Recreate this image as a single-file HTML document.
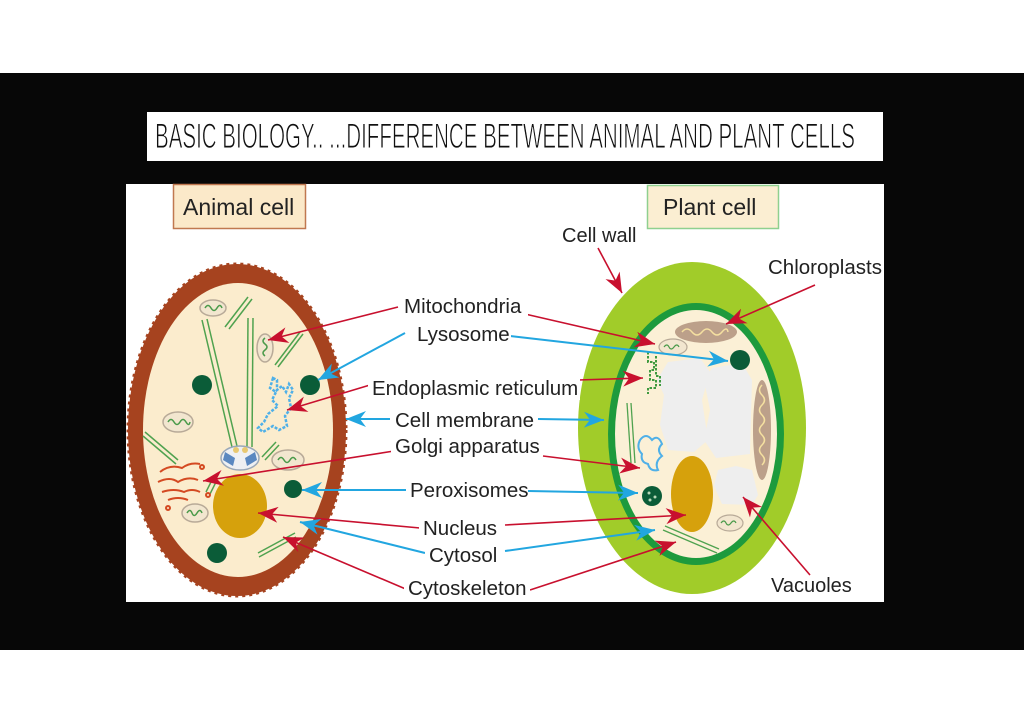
<!DOCTYPE html>
<html><head><meta charset="utf-8"><style>
html,body{margin:0;padding:0;background:#fff;}
body{width:1024px;height:724px;position:relative;overflow:hidden;}
svg{position:absolute;left:0;top:0;}
</style></head><body>
<svg width="1024" height="724" viewBox="0 0 1024 724" xmlns="http://www.w3.org/2000/svg">
<defs>
<marker id="ar" markerUnits="userSpaceOnUse" markerWidth="22" markerHeight="18" refX="20" refY="9" orient="auto">
<path d="M0,1 L20,9 L0,17 L6,9 Z" fill="#c8102e"/></marker>
<marker id="ab" markerUnits="userSpaceOnUse" markerWidth="22" markerHeight="18" refX="20" refY="9" orient="auto">
<path d="M0,1 L20,9 L0,17 L6,9 Z" fill="#22a6e0"/></marker>
</defs>
<rect x="0" y="73" width="1024" height="577" fill="#070707"/>
<rect x="147" y="112" width="736" height="49" fill="#fff"/>
<text x="155" y="148" font-family="'Liberation Sans Narrow','Liberation Sans',sans-serif" font-size="35" textLength="700" lengthAdjust="spacingAndGlyphs" fill="#111" stroke="#fff" stroke-width="0.9">BASIC BIOLOGY.. ...DIFFERENCE BETWEEN ANIMAL AND PLANT CELLS</text>
<rect x="126" y="184" width="758" height="418" fill="#fff"/>

<!-- label boxes -->
<rect x="173.5" y="184.5" width="132" height="44" fill="#fbe9c9" stroke="#c07850" stroke-width="1.5"/>
<text x="183" y="215" font-family="'Liberation Sans',sans-serif" font-size="23" fill="#222">Animal cell</text>
<rect x="647.5" y="185.5" width="131" height="43" fill="#fbeed2" stroke="#8fd08f" stroke-width="1.5"/>
<text x="663" y="215" font-family="'Liberation Sans',sans-serif" font-size="23" fill="#222">Plant cell</text>

<!-- animal cell -->
<ellipse cx="237" cy="430" rx="109" ry="166" fill="#a6431f" stroke="#a6431f" stroke-width="3" stroke-dasharray="3 4"/>
<ellipse cx="238" cy="430" rx="95" ry="147" fill="#fbeccd"/>
<g stroke="#4fa24f" stroke-width="1.5" fill="none">
<line x1="202" y1="320" x2="232" y2="447"/><line x1="207" y1="319" x2="237" y2="446"/>
<line x1="248" y1="318" x2="247" y2="447"/><line x1="253" y1="318" x2="252" y2="447"/>
<line x1="225" y1="327" x2="248" y2="297"/><line x1="229" y1="329" x2="252" y2="299"/>
<line x1="275" y1="365" x2="300" y2="332"/><line x1="278" y1="367" x2="303" y2="334"/>
<line x1="145" y1="432" x2="178" y2="460"/><line x1="143" y1="436" x2="176" y2="464"/>
<line x1="262" y1="457" x2="276" y2="442"/><line x1="265" y1="460" x2="279" y2="445"/>
<line x1="258" y1="553" x2="295" y2="533"/><line x1="259" y1="557" x2="296" y2="537"/>
<line x1="206" y1="492" x2="213" y2="478"/><line x1="210" y1="494" x2="217" y2="480"/>
</g>
<g fill="#f2e6cf" stroke="#b8aa98" stroke-width="1.5">
<ellipse cx="213" cy="308" rx="13" ry="8"/>
<ellipse cx="265" cy="348" rx="8" ry="14"/>
<ellipse cx="178" cy="422" rx="15" ry="10"/>
<ellipse cx="288" cy="460" rx="16" ry="10"/>
<ellipse cx="195" cy="513" rx="13" ry="9"/>
</g>
<g fill="none" stroke="#4a9a4a" stroke-width="1.5">
<path d="M205,308 q3,-5 6,0 t6,0 t5,0"/>
<path d="M265,338 q-4,3 0,6 t0,6 t0,6"/>
<path d="M168,422 q3,-5 6,0 t6,0 t6,0 t4,0"/>
<path d="M278,460 q3,-5 6,0 t6,0 t6,0"/>
<path d="M187,513 q3,-5 5,0 t5,0 t5,0"/>
</g>
<g fill="#0b5c38">
<circle cx="202" cy="385" r="10"/><circle cx="310" cy="385" r="10"/>
<circle cx="293" cy="489" r="9"/><circle cx="217" cy="553" r="10"/>
</g>
<!-- ER animal -->
<path d="M273,378 l-3,10 6,4 -4,8 6,6 -10,8 -4,8 -6,6 5,4 10,-6 6,4 8,-4 -2,-10 6,-8 -2,-10 4,-8 -4,-6 -3,8 -4,-6 -5,4 0,-10 z" fill="none" stroke="#4fb0e8" stroke-width="2.5" stroke-dasharray="3 1.5"/>
<!-- centrosome -->
<ellipse cx="240" cy="458" rx="19" ry="12" fill="#eef0f2" stroke="#9aa8b8" stroke-width="1.5"/>
<path d="M225,452 l10,6 -2,8 -10,-6 z M255,452 l-10,6 2,8 10,-6 z" fill="#5a88c0"/>
<circle cx="236" cy="450" r="3" fill="#e8c870"/><circle cx="245" cy="450" r="3" fill="#e8c870"/>
<!-- golgi animal -->
<g fill="none" stroke="#d44a22" stroke-width="2">
<path d="M160,472 q10,-8 22,-4 q8,-6 18,-4"/>
<path d="M158,482 q12,-6 20,0 q10,-6 20,-2"/>
<path d="M162,492 q12,-4 22,0 q8,-4 16,0"/>
<path d="M168,500 q10,-4 20,0"/>
<circle cx="202" cy="467" r="2"/><circle cx="208" cy="495" r="2"/><circle cx="168" cy="508" r="2"/>
</g>
<ellipse cx="240" cy="506" rx="27" ry="32" fill="#d6a10c"/>

<!-- plant cell -->
<ellipse cx="692" cy="428" rx="114" ry="166" fill="#a1cc29"/>
<ellipse cx="696" cy="434" rx="88" ry="131" fill="#1d9a3d"/>
<ellipse cx="696" cy="434" rx="81" ry="124" fill="#fbf0d6"/>
<g fill="#eeeeee">
<polygon points="668,362 700,358 710,372 702,400 708,440 694,452 668,450 660,425 664,395 657,380"/>
<polygon points="712,368 742,363 752,380 750,454 716,458 704,440 710,410 704,380"/>
<polygon points="718,470 736,466 752,470 758,495 752,505 722,504 714,486"/>
</g>
<ellipse cx="706" cy="332" rx="31" ry="11" fill="#bca08a"/>
<path d="M682,332 q5,-6 10,0 t10,0 t10,0 t10,0 t6,0" fill="none" stroke="#f5e0a0" stroke-width="1.5"/>
<ellipse cx="762" cy="430" rx="9" ry="50" fill="#bca08a"/>
<path d="M762,385 q-5,5 0,10 t0,10 t0,10 t0,10 t0,10 t0,10 t0,10 t0,10" fill="none" stroke="#f5e0a0" stroke-width="1.5"/>
<ellipse cx="673" cy="347" rx="14" ry="8" fill="#f2e6cf" stroke="#b8aa98" stroke-width="1.2"/>
<path d="M664,347 q3,-4 5,0 t5,0 t5,0" fill="none" stroke="#4a9a4a" stroke-width="1.2"/>
<ellipse cx="730" cy="523" rx="13" ry="8" fill="#f2e6cf" stroke="#b8aa98" stroke-width="1.2"/>
<path d="M721,523 q3,-4 5,0 t5,0 t5,0" fill="none" stroke="#4a9a4a" stroke-width="1.2"/>
<circle cx="740" cy="360" r="10" fill="#0b5c38"/>
<circle cx="652" cy="496" r="10" fill="#0b5c38"/>
<g fill="#b8d8b8"><circle cx="649" cy="493" r="1.5"/><circle cx="655" cy="497" r="1.5"/><circle cx="650" cy="500" r="1.5"/></g>
<!-- plant ER -->
<path d="M648,352 v10 h6 v8 h-4 v10 h6 v8 h-8 v6 M656,356 v20 h4 v10" fill="none" stroke="#3f9a3f" stroke-width="2" stroke-dasharray="2.5 1.5"/>
<!-- plant golgi -->
<path d="M640,440 q6,-8 12,0 q6,-6 10,4 q-6,6 0,12 q-8,6 -4,14 q-8,2 -10,-6 q-8,-2 -6,-10 q-6,-6 -2,-14" fill="none" stroke="#4fb0e8" stroke-width="2"/>
<g stroke="#4fa24f" stroke-width="1.3">
<line x1="627" y1="403" x2="631" y2="463"/><line x1="631" y1="403" x2="635" y2="463"/>
<line x1="663" y1="530" x2="717" y2="553"/><line x1="665" y1="526" x2="719" y2="549"/>
</g>
<ellipse cx="692" cy="494" rx="21" ry="38" fill="#d6a10c"/>

<!-- connectors -->
<g stroke-width="1.6" fill="none">
<line x1="398" y1="307" x2="268" y2="340" stroke="#c8102e" marker-end="url(#ar)"/>
<line x1="405" y1="333" x2="318" y2="380" stroke="#22a6e0" stroke-width="2" marker-end="url(#ab)"/>
<line x1="370" y1="385" x2="287" y2="410" stroke="#c8102e" marker-end="url(#ar)"/>
<line x1="390" y1="419" x2="346" y2="419" stroke="#22a6e0" stroke-width="2" marker-end="url(#ab)"/>
<line x1="394" y1="451" x2="203" y2="481" stroke="#c8102e" marker-end="url(#ar)"/>
<line x1="407" y1="490" x2="302" y2="490" stroke="#22a6e0" stroke-width="2" marker-end="url(#ab)"/>
<line x1="420" y1="528" x2="258" y2="513" stroke="#c8102e" marker-end="url(#ar)"/>
<line x1="425" y1="553" x2="300" y2="522" stroke="#22a6e0" stroke-width="2" marker-end="url(#ab)"/>
<line x1="408" y1="590" x2="283" y2="537" stroke="#c8102e" marker-end="url(#ar)"/>

<line x1="525" y1="314" x2="655" y2="344" stroke="#c8102e" marker-end="url(#ar)"/>
<line x1="510" y1="336" x2="728" y2="361" stroke="#22a6e0" stroke-width="2" marker-end="url(#ab)"/>
<line x1="578" y1="380" x2="643" y2="378" stroke="#c8102e" marker-end="url(#ar)"/>
<line x1="538" y1="419" x2="604" y2="420" stroke="#22a6e0" stroke-width="2" marker-end="url(#ab)"/>
<line x1="543" y1="456" x2="640" y2="468" stroke="#c8102e" marker-end="url(#ar)"/>
<line x1="528" y1="491" x2="638" y2="493" stroke="#22a6e0" stroke-width="2" marker-end="url(#ab)"/>
<line x1="505" y1="525" x2="686" y2="515" stroke="#c8102e" marker-end="url(#ar)"/>
<line x1="505" y1="551" x2="655" y2="530" stroke="#22a6e0" stroke-width="2" marker-end="url(#ab)"/>
<line x1="530" y1="590" x2="676" y2="542" stroke="#c8102e" marker-end="url(#ar)"/>
<line x1="598" y1="248" x2="622" y2="293" stroke="#c8102e" marker-end="url(#ar)"/>
<line x1="815" y1="285" x2="726" y2="324" stroke="#c8102e" marker-end="url(#ar)"/>
<line x1="810" y1="575" x2="743" y2="497" stroke="#c8102e" marker-end="url(#ar)"/>
</g>

<!-- labels -->
<g font-family="'Liberation Sans',sans-serif" font-size="20.5" fill="#222">
<rect x="400" y="296" width="128" height="20" fill="#fff"/>
<text x="404" y="313">Mitochondria</text>
<rect x="413" y="324" width="98" height="22" fill="#fff"/>
<text x="417" y="341">Lysosome</text>
<rect x="368" y="378" width="212" height="22" fill="#fff"/>
<text x="372" y="395">Endoplasmic reticulum</text>
<rect x="391" y="409" width="145" height="22" fill="#fff"/>
<text x="395" y="427">Cell membrane</text>
<rect x="391" y="436" width="150" height="22" fill="#fff"/>
<text x="395" y="453">Golgi apparatus</text>
<rect x="406" y="480" width="122" height="22" fill="#fff"/>
<text x="410" y="497">Peroxisomes</text>
<rect x="419" y="518" width="84" height="22" fill="#fff"/>
<text x="423" y="535">Nucleus</text>
<rect x="425" y="545" width="78" height="22" fill="#fff"/>
<text x="429" y="562">Cytosol</text>
<rect x="404" y="577" width="126" height="22" fill="#fff"/>
<text x="408" y="595">Cytoskeleton</text>
<text x="562" y="242" font-size="20">Cell wall</text>
<text x="768" y="274">Chloroplasts</text>
<text x="771" y="592" font-size="20">Vacuoles</text>
</g>
</svg>
</body></html>
